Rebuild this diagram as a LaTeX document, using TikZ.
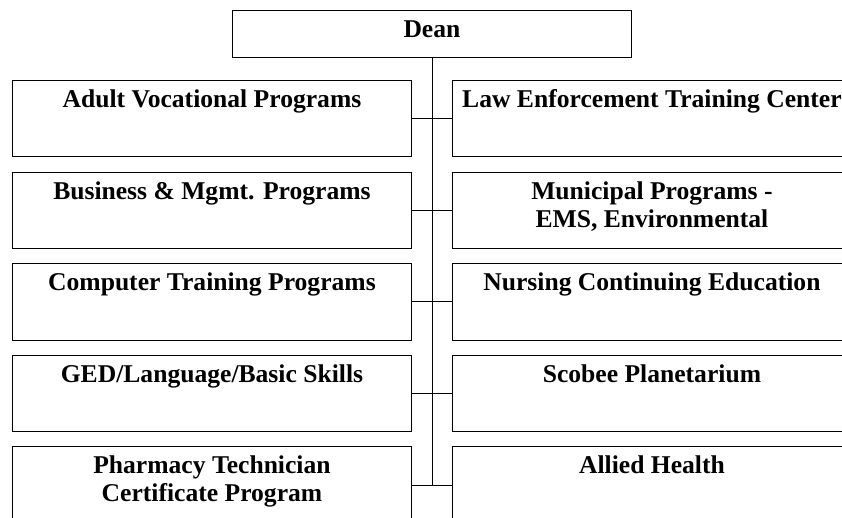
\documentclass[tikz,border=0pt]{standalone}
\usepackage{fontspec}
\setmainfont{Liberation Serif}
\tikzset{
  unit/.style={draw, line width=0.9pt, inner sep=0pt, anchor=north west,
    font=\bfseries\fontsize{25.6}{28}\selectfont},
  link/.style={line width=0.9pt}
}
\newcommand{\unittext}[2][76.5pt]{\parbox[c][#1][t]{399pt}{\centering\rule{0pt}{27pt}#2}}

\begin{document}
\begin{tikzpicture}[x=1pt,y=-1pt]
     \useasboundingbox (0,0) rectangle (842,518);
     \node[unit] (dean) at (232,10) {\unittext[47pt]{Dean}};
     % left column
     \node[unit] (adult) at (12,80) {\unittext{Adult Vocational Programs}};
     \node[unit] (business) at (12,171.6) {\unittext{Business \& Mgmt. Programs}};
     \node[unit] (computer) at (12,263.2) {\unittext{Computer Training Programs}};
     \node[unit] (ged) at (12,354.8) {\unittext{GED/Language/Basic Skills}};
     \node[unit] (pharm) at (12,446.4) {\unittext{Pharmacy Technician\\Certificate Program}};
     % right column
     \node[unit] (law) at (452,80) {\unittext{Law Enforcement Training Center}};
     \node[unit] (municipal) at (452,171.6) {\unittext{Municipal Programs -\\EMS, Environmental}};
     \node[unit] (nursing) at (452,263.2) {\unittext{Nursing Continuing Education}};
     \node[unit] (scobee) at (452,354.8) {\unittext{Scobee Planetarium}};
     \node[unit] (allied) at (452,446.4) {\unittext{Allied Health}};
     % lines
     \draw[link] (dean.south) -- (dean.south |- pharm.east);
     \draw[link] (adult.east) -- (law.west);
     \draw[link] (business.east) -- (municipal.west);
     \draw[link] (computer.east) -- (nursing.west);
     \draw[link] (ged.east) -- (scobee.west);
     \draw[link] (pharm.east) -- (allied.west);
\end{tikzpicture}
\end{document}
